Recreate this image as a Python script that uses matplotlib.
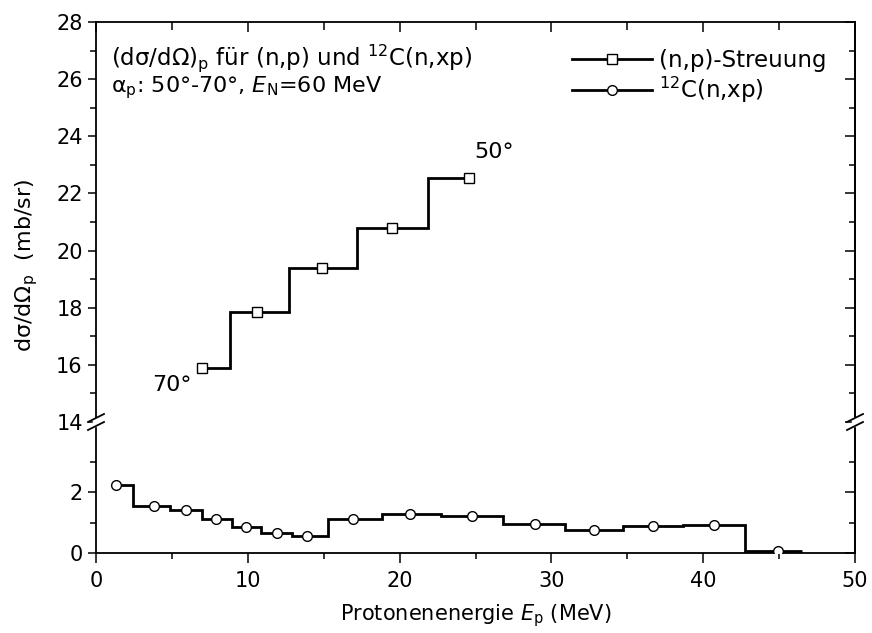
import matplotlib
matplotlib.use("Agg")
import matplotlib.pyplot as plt
from matplotlib.lines import Line2D
from matplotlib.ticker import MultipleLocator, FixedLocator

# (n,p)-Streuung: marker positions, step transitions and levels
np_x = [7.0, 10.6, 14.9, 19.5, 24.6]
np_y = [15.9, 17.85, 19.4, 20.8, 22.55]
np_edges = [7.0, 8.8, 12.7, 17.2, 21.9, 24.6]

# 12C(n,xp): markers, bin edges, bin levels
c_x = [1.3, 3.8, 5.9, 7.9, 9.9, 11.9, 13.9, 16.9, 20.7, 24.8, 28.9, 32.8, 36.7, 40.7, 44.9]
c_y = [2.23, 1.55, 1.41, 1.11, 0.84, 0.66, 0.55, 1.13, 1.29, 1.20, 0.94, 0.74, 0.89, 0.91, 0.08]
c_edges = [1.3, 2.46, 4.87, 6.96, 8.94, 10.9, 12.93, 15.3, 18.86, 22.7, 26.8, 30.9,
           34.7, 38.7, 42.75, 46.5]

plt.rcParams['font.family'] = ['DejaVu Sans']
plt.rcParams['mathtext.fontset'] = 'dejavusans'

fig = plt.figure(figsize=(8.72, 6.33), dpi=100)
left, right = 96 / 872, 855 / 872
y_top, y_mid, y_bot = 1 - 22 / 633, 1 - 422 / 633, 1 - 553 / 633
ax_up = fig.add_axes([left, y_mid, right - left, y_top - y_mid])
ax_lo = fig.add_axes([left, y_bot, right - left, y_mid - y_bot])

lw = 2.0
ax_up.stairs(np_y, np_edges, color="black", lw=lw, baseline=None)
ax_up.plot(np_x, np_y, "s", ms=7.5, mfc="white", mec="black", mew=1.0, zorder=3)
ax_lo.stairs(c_y, c_edges, color="black", lw=lw, baseline=None)
ax_lo.plot(c_x, c_y, "o", ms=7, mfc="white", mec="black", mew=1.0, zorder=3)

ax_up.set_xlim(0, 50)
ax_lo.set_xlim(0, 50)
ax_up.set_ylim(14, 28)
ax_lo.set_ylim(0, 4.3)

ax_up.yaxis.set_major_locator(MultipleLocator(2))
ax_up.yaxis.set_minor_locator(MultipleLocator(1))
ax_lo.yaxis.set_major_locator(FixedLocator([0, 2]))
ax_lo.yaxis.set_minor_locator(FixedLocator([1, 3]))

for ax in (ax_up, ax_lo):
    ax.xaxis.set_major_locator(MultipleLocator(10))
    ax.xaxis.set_minor_locator(MultipleLocator(5))
    for s in ax.spines.values():
        s.set_linewidth(1.3)
    ax.tick_params(which="both", labelsize=15, width=1.1)
    ax.tick_params(axis="y", which="major", direction="out", length=6)
    ax.tick_params(axis="y", which="minor", direction="out", length=4)

    # right-side inward ticks drawn through a twin
    tw = ax.twinx()
    tw.set_ylim(ax.get_ylim())
    tw.yaxis.set_major_locator(ax.yaxis.get_major_locator())
    tw.yaxis.set_minor_locator(ax.yaxis.get_minor_locator())
    tw.tick_params(which="major", direction="in", length=7, width=1.1, labelright=False)
    tw.tick_params(which="minor", direction="in", length=4, width=1.1)
    tw.spines["right"].set_linewidth(1.3)
    for s in ("left", "top", "bottom"):
        tw.spines[s].set_visible(False)

ax_up.spines["bottom"].set_visible(False)
ax_lo.spines["top"].set_visible(False)
ax_up.tick_params(axis="x", which="both", bottom=False, labelbottom=False,
                  top=True, direction="in", length=7)
ax_up.tick_params(axis="x", which="minor", length=6)
ax_lo.tick_params(axis="x", which="major", direction="out", length=7)
ax_lo.tick_params(axis="x", which="minor", direction="out", length=4)
ax_lo.tick_params(axis="x", pad=6)

# axis break marks
for xf in (left, right):
    xc = xf * 872
    fig.patches.append(plt.Rectangle(((xc - 3) / 872, 1 - 426 / 633), 6 / 872, 8 / 633,
                                     transform=fig.transFigure, color="white", zorder=5))
    for dy in (-4, 4):
        yc = 422 + dy
        fig.add_artist(Line2D([(xc - 8) / 872, (xc + 8) / 872],
                              [1 - (yc + 4) / 633, 1 - (yc - 4) / 633],
                              color="black", lw=1.3, zorder=6))

ax_lo.set_xlabel(r"Protonenenergie $\mathit{E}_\mathregular{p}$ (MeV)", fontsize=15, labelpad=8)
fig.text(0.031, 1 - 265 / 633, r"dσ/dΩ$_\mathregular{p}$  (mb/sr)",
         rotation=90, fontsize=16, ha="center", va="center")

ax_up.text(0.02, 0.91, r"(dσ/dΩ)$_\mathregular{p}$ für (n,p) und $^\mathregular{12}$C(n,xp)",
           transform=ax_up.transAxes, fontsize=16.5, va="center")
ax_up.text(0.02, 0.835, r"α$_\mathregular{p}$: 50°-70°, $\mathit{E}_\mathregular{N}$=60 MeV",
           transform=ax_up.transAxes, fontsize=16, va="center")
ax_up.text(np_x[0] - 0.7, np_y[0] - 0.6, "70°", fontsize=16, ha="right", va="center")
ax_up.text(np_x[-1] + 0.3, np_y[-1] + 0.9, "50°", fontsize=16, ha="left", va="center")

h1 = Line2D([], [], color="black", lw=lw, marker="s", ms=7.5, mfc="white", mec="black")
h2 = Line2D([], [], color="black", lw=lw, marker="o", ms=7, mfc="white", mec="black")
ax_up.legend([h1, h2], ["(n,p)-Streuung", r"$^\mathregular{12}$C(n,xp)"], loc="upper right",
             bbox_to_anchor=(0.99, 0.985), frameon=False, fontsize=16.5, handlelength=3.5,
             handletextpad=0.3, labelspacing=0.15)

fig.savefig("out.png", dpi=100)
